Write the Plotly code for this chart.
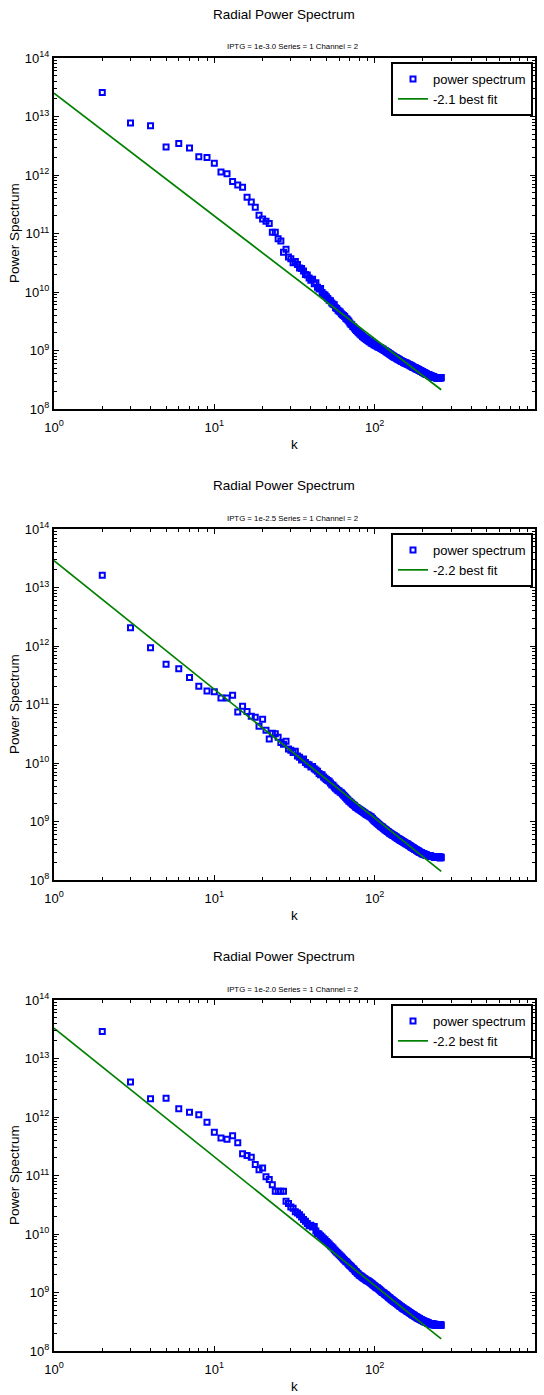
import numpy as np
import plotly.graph_objects as go

# log10 of the radially averaged power, one value per wavenumber k = 2, 3, 4, ...
log_power_1 = [
    13.41, 12.89, 12.84, 12.48, 12.54, 12.46, 12.31, 12.30, 12.20, 12.05,
    12.02, 11.89, 11.83, 11.79, 11.62, 11.54, 11.45, 11.31, 11.25, 11.21,
    11.17, 11.02, 11.02, 10.91, 10.87, 10.68, 10.73, 10.60,
    10.57, 10.50, 10.52, 10.47, 10.41, 10.40, 10.36, 10.30, 10.29, 10.24,
    10.20, 10.22, 10.14, 10.16, 10.08, 10.05, 10.06, 9.99, 9.96, 9.95,
    9.92, 9.89, 9.86, 9.85, 9.81, 9.79, 9.78, 9.73, 9.72, 9.69,
    9.67, 9.66, 9.63, 9.61, 9.60, 9.58, 9.55, 9.54, 9.52, 9.50,
    9.47, 9.45, 9.44, 9.41, 9.40, 9.38, 9.36, 9.34, 9.33, 9.31,
    9.30, 9.28, 9.27, 9.26, 9.24, 9.23, 9.22, 9.21, 9.20, 9.19,
    9.18, 9.17, 9.16, 9.15, 9.15, 9.13, 9.13, 9.12, 9.11, 9.10,
    9.10, 9.09, 9.08, 9.08, 9.07, 9.06, 9.06, 9.05, 9.05, 9.04,
    9.04, 9.03, 9.02, 9.02, 9.01, 9.00, 9.00, 8.99, 8.98, 8.98,
    8.97, 8.96, 8.96, 8.95, 8.94, 8.94, 8.93, 8.92, 8.92, 8.91,
    8.90, 8.90, 8.89, 8.89, 8.88, 8.88, 8.87, 8.87, 8.86, 8.86,
    8.85, 8.85, 8.84, 8.84, 8.83, 8.83, 8.82, 8.82, 8.81, 8.81,
    8.81, 8.80, 8.80, 8.79, 8.79, 8.79, 8.78, 8.78, 8.78, 8.77,
    8.77, 8.77, 8.76, 8.76, 8.75, 8.75, 8.75, 8.74, 8.74, 8.74,
    8.73, 8.73, 8.72, 8.72, 8.72, 8.71, 8.71, 8.71, 8.70, 8.70,
    8.70, 8.69, 8.69, 8.69, 8.68, 8.68, 8.68, 8.67, 8.67, 8.67,
    8.66, 8.66, 8.66, 8.65, 8.65, 8.65, 8.64, 8.64, 8.64, 8.63,
    8.63, 8.63, 8.62, 8.62, 8.62, 8.61, 8.61, 8.61, 8.60, 8.60,
    8.60, 8.60, 8.59, 8.59, 8.59, 8.59, 8.58, 8.58, 8.58, 8.58,
    8.57, 8.57, 8.57, 8.57, 8.56, 8.56, 8.56, 8.56, 8.56, 8.55,
    8.55, 8.55, 8.55, 8.55, 8.55, 8.54, 8.54, 8.54, 8.54, 8.54,
    8.54, 8.54, 8.53, 8.54, 8.53, 8.54, 8.53, 8.53, 8.54, 8.53,
    8.53, 8.54, 8.53, 8.53, 8.54, 8.53, 8.54, 8.53, 8.54, 8.53,
    8.54,
]

log_power_2 = [
    13.21, 12.31, 11.97, 11.69, 11.61, 11.46, 11.31, 11.23, 11.22, 11.11,
    11.11, 11.16, 10.87, 10.97, 10.88, 10.80, 10.78, 10.63, 10.75, 10.56,
    10.41, 10.51, 10.50, 10.44, 10.35, 10.32, 10.37, 10.24,
    10.22, 10.18, 10.20, 10.12, 10.10, 10.05, 10.07, 10.01, 9.98, 9.97,
    9.93, 9.94, 9.90, 9.88, 9.86, 9.82, 9.80, 9.80, 9.76, 9.74,
    9.72, 9.70, 9.69, 9.66, 9.63, 9.62, 9.59, 9.57, 9.55, 9.53,
    9.52, 9.50, 9.49, 9.47, 9.45, 9.43, 9.41, 9.39, 9.37, 9.35,
    9.34, 9.32, 9.31, 9.29, 9.28, 9.27, 9.25, 9.24, 9.23, 9.22,
    9.21, 9.20, 9.19, 9.18, 9.17, 9.16, 9.15, 9.14, 9.13, 9.12,
    9.11, 9.11, 9.10, 9.09, 9.08, 9.08, 9.06, 9.05, 9.03, 9.02,
    9.01, 9.00, 8.99, 8.98, 8.97, 8.96, 8.95, 8.94, 8.93, 8.92,
    8.91, 8.91, 8.90, 8.89, 8.88, 8.87, 8.86, 8.86, 8.85, 8.84,
    8.83, 8.83, 8.82, 8.81, 8.80, 8.80, 8.79, 8.78, 8.78, 8.77,
    8.77, 8.76, 8.76, 8.75, 8.74, 8.74, 8.73, 8.73, 8.72, 8.71,
    8.71, 8.70, 8.70, 8.69, 8.69, 8.68, 8.68, 8.67, 8.67, 8.66,
    8.66, 8.65, 8.65, 8.64, 8.64, 8.63, 8.63, 8.62, 8.62, 8.62,
    8.61, 8.61, 8.60, 8.60, 8.59, 8.59, 8.58, 8.58, 8.57, 8.57,
    8.56, 8.56, 8.55, 8.55, 8.55, 8.54, 8.54, 8.53, 8.53, 8.52,
    8.52, 8.52, 8.51, 8.51, 8.50, 8.50, 8.50, 8.49, 8.49, 8.48,
    8.48, 8.48, 8.47, 8.47, 8.47, 8.46, 8.46, 8.46, 8.45, 8.45,
    8.45, 8.45, 8.44, 8.44, 8.44, 8.44, 8.43, 8.43, 8.43, 8.43,
    8.43, 8.42, 8.42, 8.42, 8.42, 8.42, 8.42, 8.41, 8.41, 8.41,
    8.41, 8.41, 8.41, 8.41, 8.41, 8.40, 8.40, 8.40, 8.40, 8.40,
    8.40, 8.40, 8.40, 8.40, 8.40, 8.39, 8.40, 8.39, 8.39, 8.40,
    8.39, 8.39, 8.40, 8.39, 8.39, 8.39, 8.40, 8.39, 8.39, 8.39,
    8.39, 8.40, 8.39, 8.39, 8.38, 8.39, 8.39, 8.38, 8.39, 8.38,
    8.39,
]

log_power_3 = [
    13.46, 12.60, 12.31, 12.32, 12.14, 12.08, 12.04, 11.91, 11.74, 11.64,
    11.62, 11.68, 11.56, 11.37, 11.34, 11.31, 11.19, 11.10, 11.13, 10.98,
    10.93, 10.84, 10.73, 10.73, 10.73, 10.73, 10.56, 10.52,
    10.46, 10.44, 10.38, 10.36, 10.33, 10.29, 10.25, 10.22, 10.18, 10.14,
    10.15, 10.12, 10.13, 10.05, 10.01, 10.00, 9.97, 9.95, 9.92, 9.90,
    9.87, 9.85, 9.83, 9.80, 9.78, 9.76, 9.73, 9.71, 9.69, 9.67,
    9.65, 9.63, 9.61, 9.59, 9.57, 9.55, 9.53, 9.52, 9.50, 9.48,
    9.46, 9.45, 9.43, 9.41, 9.40, 9.38, 9.36, 9.35, 9.33, 9.32,
    9.30, 9.29, 9.28, 9.27, 9.26, 9.25, 9.24, 9.23, 9.22, 9.21,
    9.20, 9.20, 9.19, 9.18, 9.17, 9.16, 9.15, 9.14, 9.13, 9.12,
    9.11, 9.10, 9.09, 9.08, 9.08, 9.07, 9.06, 9.05, 9.04, 9.03,
    9.02, 9.01, 9.00, 9.00, 8.99, 8.98, 8.97, 8.96, 8.96, 8.95,
    8.94, 8.93, 8.92, 8.91, 8.91, 8.90, 8.89, 8.88, 8.87, 8.87,
    8.86, 8.85, 8.85, 8.84, 8.83, 8.83, 8.82, 8.81, 8.81, 8.80,
    8.79, 8.79, 8.78, 8.77, 8.77, 8.76, 8.76, 8.75, 8.74, 8.74,
    8.73, 8.73, 8.72, 8.72, 8.71, 8.71, 8.70, 8.70, 8.69, 8.69,
    8.68, 8.68, 8.67, 8.67, 8.66, 8.66, 8.65, 8.65, 8.64, 8.64,
    8.63, 8.63, 8.62, 8.62, 8.61, 8.61, 8.61, 8.60, 8.60, 8.59,
    8.59, 8.58, 8.58, 8.58, 8.57, 8.57, 8.56, 8.56, 8.56, 8.55,
    8.55, 8.55, 8.54, 8.54, 8.54, 8.53, 8.53, 8.53, 8.52, 8.52,
    8.52, 8.51, 8.51, 8.51, 8.51, 8.50, 8.50, 8.50, 8.50, 8.49,
    8.49, 8.49, 8.49, 8.48, 8.48, 8.48, 8.48, 8.48, 8.47, 8.47,
    8.47, 8.47, 8.47, 8.47, 8.46, 8.46, 8.46, 8.46, 8.46, 8.46,
    8.46, 8.45, 8.46, 8.45, 8.45, 8.45, 8.45, 8.46, 8.45, 8.45,
    8.45, 8.44, 8.45, 8.45, 8.44, 8.45, 8.45, 8.44, 8.45, 8.44,
    8.44, 8.45, 8.44, 8.45, 8.44, 8.44, 8.45, 8.44, 8.44, 8.45,
    8.44,
]

subtitles = [
    "IPTG = 1e-3.0 Series = 1 Channel = 2",
    "IPTG = 1e-2.5 Series = 1 Channel = 2",
    "IPTG = 1e-2.0 Series = 1 Channel = 2",
]
fit_slopes = [-2.1, -2.2, -2.2]
fit_log_amplitudes = [13.40, 13.46, 13.52]

x_decades = [0, 1, 2, 3]
y_decades = [8, 9, 10, 11, 12, 13, 14]

FONT = "Liberation Sans, Arial, sans-serif"
W, H = 544, 1395
panel_offsets = [0, 471, 942]
plot_top, plot_bottom = 58, 409
plot_left, plot_right = 54, 535


def py(v):
    """Pixel row (from top) -> paper fraction."""
    return 1 - v / H


def px(v):
    return v / W


def minor_vals(decades):
    vals = []
    for d in decades[:-1]:
        for m in range(2, 10):
            vals.append(m * 10 ** d)
    return vals


fig = go.Figure()
annotations = []
layout_axes = {}

series = [log_power_1, log_power_2, log_power_3]
for i, (logp, sub, slope, loga, off) in enumerate(
        zip(series, subtitles, fit_slopes, fit_log_amplitudes, panel_offsets)):
    n = i + 1
    xa = "x" if n == 1 else f"x{n}"
    ya = "y" if n == 1 else f"y{n}"
    leg = "legend" if n == 1 else f"legend{n}"

    k = np.arange(2, 2 + len(logp))
    power = 10 ** np.array(logp)
    fig.add_trace(go.Scatter(
        x=k, y=power, mode="markers", name="power spectrum",
        xaxis=xa, yaxis=ya, legend=leg,
        marker=dict(symbol="square-open", size=5, color="#0000ff",
                    line=dict(width=2, color="#0000ff")),
    ))

    k_fit = np.arange(1, k[-1] + 1)
    fit = 10 ** loga * k_fit.astype(float) ** slope
    fig.add_trace(go.Scatter(
        x=k_fit, y=fit, mode="lines", name=f"{slope:g} best fit",
        xaxis=xa, yaxis=ya, legend=leg,
        line=dict(color="#008000", width=1.7),
    ))

    top = plot_top + off
    bottom = plot_bottom + off
    axis_common = dict(
        type="log", showline=True, linecolor="black", linewidth=2,
        mirror="allticks", ticks="inside", ticklen=5, tickwidth=1.2,
        tickcolor="black", showgrid=False, zeroline=False, automargin=False,
        tickfont=dict(family=FONT, size=13, color="black"),
        minor=dict(ticks="inside", ticklen=3, tickwidth=1.2, tickcolor="black",
                   showgrid=False, tickmode="array"),
    )
    xkey = "xaxis" if n == 1 else f"xaxis{n}"
    ykey = "yaxis" if n == 1 else f"yaxis{n}"
    layout_axes[xkey] = dict(
        axis_common, domain=[px(plot_left), px(plot_right)], anchor=ya,
        range=[x_decades[0], x_decades[-1]], tickmode="array",
        tickvals=[10 ** d for d in x_decades],
        ticktext=[f"10<sup>{d}</sup>" for d in x_decades],
        ticklabelstandoff=5,
        minor=dict(axis_common["minor"], tickvals=minor_vals(x_decades)),
    )
    layout_axes[ykey] = dict(
        axis_common, domain=[py(bottom), py(top)], anchor=xa,
        range=[y_decades[0], y_decades[-1]], tickmode="array",
        tickvals=[10 ** d for d in y_decades],
        ticktext=[f"10<sup>{d}</sup>" for d in y_decades],
        ticklabelstandoff=0,
        minor=dict(axis_common["minor"], tickvals=minor_vals(y_decades)),
    )

    layout_axes[leg] = dict(
        x=px(533), y=py(62 + off), xanchor="right", yanchor="top",
        bgcolor="white", bordercolor="black", borderwidth=2,
        font=dict(family=FONT, size=13, color="black"),
        tracegroupgap=0,
    )

    annotations += [
        dict(text="Radial Power Spectrum", x=px(284), y=py(14 + off),
             font=dict(family=FONT, size=13.5, color="black")),
        dict(text=sub, x=px(292), y=py(47 + off),
             font=dict(family=FONT, size=7.8, color="black")),
        dict(text="k", x=px(294), y=py(444 + off),
             font=dict(family=FONT, size=13.5, color="black")),
        dict(text="Power Spectrum", x=px(14), y=py(233 + off), textangle=-90,
             font=dict(family=FONT, size=13.5, color="black")),
    ]

for a in annotations:
    a.update(xref="paper", yref="paper", showarrow=False,
             xanchor="center", yanchor="middle")

fig.update_layout(
    width=W, height=H, margin=dict(l=0, r=0, t=0, b=0, autoexpand=False),
    paper_bgcolor="white", plot_bgcolor="white",
    font=dict(family=FONT, color="black"),
    annotations=annotations,
    **layout_axes,
)

fig.write_html("out.html")
